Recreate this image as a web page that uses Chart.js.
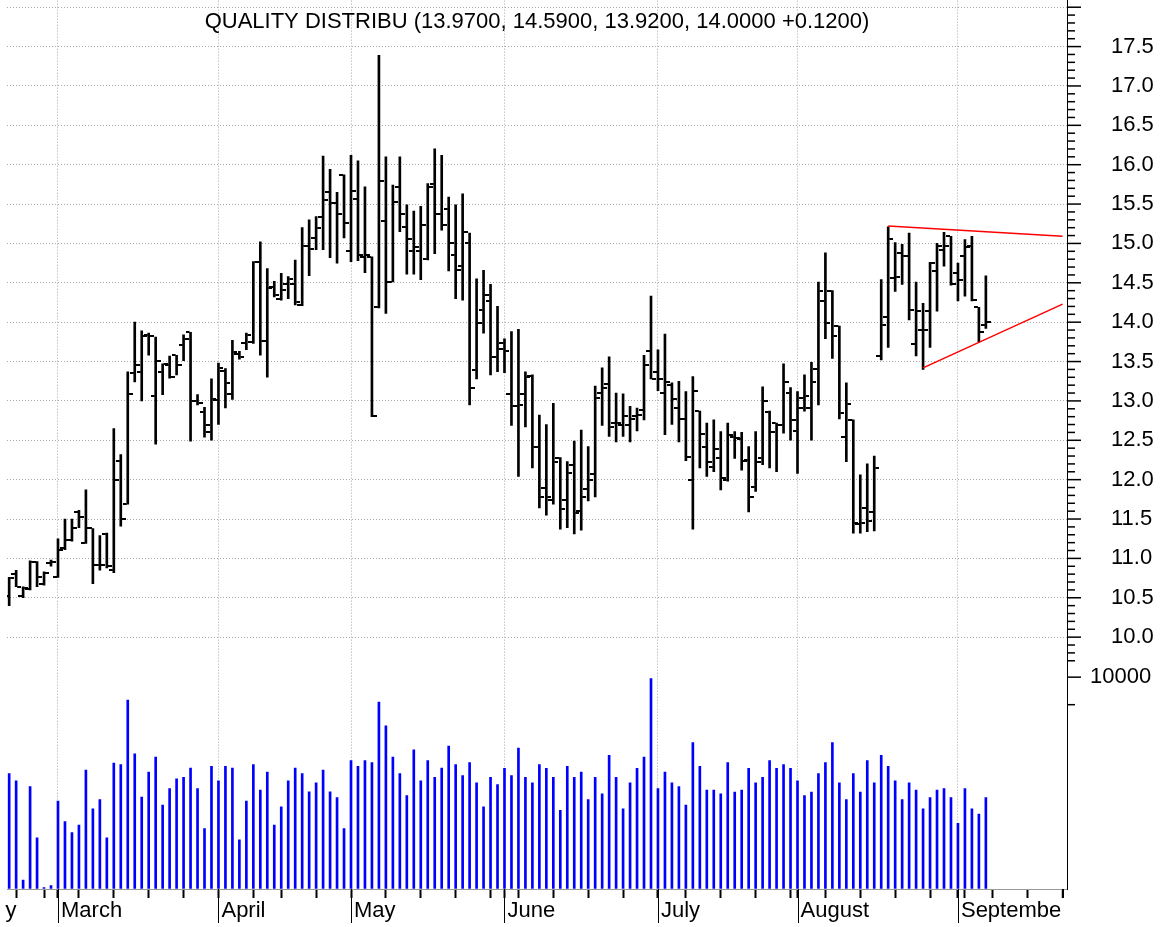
<!DOCTYPE html>
<html>
<head>
<meta charset="utf-8">
<script src="https://cdn.jsdelivr.net/npm/chart.js@4.4.1/dist/chart.umd.min.js"></script>
<style>
  html, body { margin: 0; padding: 0; background: #fff; overflow: hidden; }
  canvas { display: block; }
</style>
</head>
<body>
<canvas id="chart" width="1166" height="927"></canvas>
<script>
// daily bars, 17 Feb .. 8 Sep (trading days)
const opens = [
  10.52, 10.80, 10.52, 10.61, 10.95, 10.68, 10.94, 10.77, 11.13, 11.23,
  11.59, 11.20, 11.38, 10.92, 11.31, 10.85, 12.24, 11.69, 13.35, 13.37,
  13.84, 13.06, 13.37, 13.46, 13.58, 13.71, 13.87, 13.00, 12.86, 12.60,
  13.01, 13.38, 13.09, 13.60, 13.73, 13.75, 14.76, 13.76, 14.45, 14.29,
  14.48, 14.49, 14.22, 14.97, 15.07, 15.34, 15.65, 15.51, 15.87, 14.90,
  15.56, 14.83, 14.83, 14.19, 15.29, 14.51, 15.72, 15.21, 14.90, 14.90,
  14.80, 15.76, 15.37, 15.44, 14.85, 14.71, 15.01, 13.39, 14.16, 14.27,
  13.56, 13.74, 13.09, 12.93, 13.09, 13.32, 12.42, 11.90, 11.74, 12.28,
  11.74, 12.19, 11.60, 11.88, 12.07, 13.10, 13.21, 12.72, 12.70, 12.70,
  12.81, 12.89, 13.64, 13.37, 13.10, 13.20, 12.91, 12.77, 11.99, 12.87,
  12.41, 12.16, 12.27, 11.99, 12.54, 12.51, 12.25, 11.91, 12.27, 12.86,
  12.72, 12.70, 13.10, 12.62, 13.04, 12.91, 13.40, 14.27, 14.40, 13.95,
  12.54, 12.76, 11.44, 11.64, 11.59, 13.57, 14.06, 14.56, 14.88, 14.84,
  13.72, 13.90, 14.14, 14.65, 14.92, 15.09, 14.62, 14.84, 14.97, 14.19,
  13.97
];
const highs = [
  10.76, 10.85, 10.64, 10.97, 10.96, 10.83, 10.98, 11.25, 11.50, 11.50,
  11.61, 11.87, 11.38, 11.29, 11.32, 12.65, 12.32, 13.37, 14.00, 13.89,
  13.86, 13.81, 13.47, 13.57, 13.58, 13.84, 13.87, 13.08, 12.92, 13.28,
  13.48, 13.41, 13.77, 13.63, 13.86, 14.77, 15.02, 14.68, 14.52, 14.62,
  14.58, 14.79, 15.20, 15.30, 15.34, 16.11, 15.94, 15.65, 15.87, 16.12,
  16.05, 15.72, 14.83, 17.39, 16.10, 15.74, 16.10, 15.49, 15.41, 15.47,
  15.76, 16.20, 16.12, 15.59, 15.49, 15.63, 15.13, 14.55, 14.66, 14.48,
  14.20, 13.79, 13.88, 13.91, 13.37, 13.33, 12.82, 12.70, 12.97, 12.28,
  12.23, 12.49, 12.63, 12.42, 13.19, 13.42, 13.56, 13.10, 13.09, 12.93,
  12.91, 13.58, 14.33, 13.65, 13.85, 13.23, 13.25, 13.12, 13.31, 12.87,
  12.72, 12.76, 12.61, 12.72, 12.61, 12.60, 12.42, 12.61, 13.18, 12.87,
  12.72, 13.47, 13.17, 13.12, 13.33, 13.49, 14.51, 14.88, 14.40, 13.95,
  13.23, 12.76, 12.06, 12.20, 12.30, 14.54, 15.21, 15.01, 14.99, 15.13,
  14.51, 14.24, 14.76, 15.00, 15.14, 15.09, 14.75, 15.05, 15.09, 14.19,
  14.59
];
const lows = [
  10.40, 10.64, 10.50, 10.60, 10.64, 10.66, 10.90, 10.76, 11.11, 11.22,
  11.39, 11.19, 10.68, 10.85, 10.88, 10.82, 11.41, 11.69, 13.24, 13.00,
  13.58, 12.45, 13.08, 13.29, 13.33, 13.51, 12.49, 12.95, 12.54, 12.50,
  12.70, 12.91, 13.02, 13.53, 13.65, 13.73, 13.58, 13.30, 14.32, 14.28,
  14.30, 14.22, 14.21, 14.59, 14.92, 14.92, 14.82, 14.75, 15.07, 14.77,
  14.78, 14.63, 12.80, 14.18, 14.11, 14.51, 15.15, 14.61, 14.61, 14.54,
  14.79, 14.87, 15.17, 14.65, 14.30, 14.28, 12.95, 13.28, 13.86, 13.33,
  13.37, 13.36, 12.69, 12.04, 12.67, 12.15, 11.64, 11.55, 11.69, 11.37,
  11.39, 11.31, 11.36, 11.73, 11.78, 12.69, 12.55, 12.48, 12.55, 12.48,
  12.62, 12.76, 13.28, 13.13, 12.57, 12.70, 12.48, 12.24, 11.37, 12.15,
  12.04, 12.10, 11.87, 11.98, 12.27, 12.12, 11.59, 11.85, 12.19, 12.15,
  12.10, 12.59, 12.50, 12.08, 12.87, 12.50, 12.95, 13.79, 13.54, 12.77,
  12.23, 11.32, 11.32, 11.34, 11.35, 13.52, 13.68, 14.39, 14.48, 14.03,
  13.57, 13.40, 13.68, 14.14, 14.71, 14.47, 14.27, 14.33, 14.27, 13.75,
  13.92
];
const closes = [
  10.75, 10.64, 10.62, 10.95, 10.77, 10.82, 10.96, 11.11, 11.23, 11.39,
  11.53, 11.39, 10.92, 10.91, 10.90, 11.99, 11.50, 13.09, 13.45, 13.83,
  13.83, 13.51, 13.47, 13.30, 13.45, 13.78, 13.00, 12.97, 12.69, 13.02,
  13.42, 13.23, 13.62, 13.56, 13.84, 14.76, 13.76, 14.43, 14.35, 14.41,
  14.55, 14.26, 14.97, 14.93, 15.20, 15.55, 15.51, 15.37, 15.26, 15.67,
  14.85, 14.85, 12.81, 15.79, 14.51, 15.53, 15.37, 15.05, 14.95, 15.23,
  15.72, 15.37, 15.23, 15.01, 14.66, 15.15, 13.16, 13.99, 14.34, 13.56,
  13.66, 13.64, 12.93, 12.95, 13.30, 12.42, 11.78, 11.78, 12.23, 11.63,
  12.09, 11.58, 11.78, 12.00, 13.04, 13.16, 12.67, 12.72, 12.81, 12.77,
  12.82, 13.46, 13.28, 13.28, 13.24, 13.03, 12.77, 12.29, 13.12, 12.58,
  12.23, 12.39, 12.02, 12.57, 12.53, 12.24, 11.78, 12.23, 13.00, 12.60,
  12.70, 13.24, 12.76, 12.91, 13.06, 13.24, 14.39, 13.99, 13.82, 12.85,
  12.96, 11.45, 11.45, 11.47, 12.15, 13.97, 15.05, 14.57, 14.84, 14.16,
  14.14, 13.90, 14.75, 14.97, 14.97, 14.48, 14.54, 14.95, 14.28, 13.88,
  14.00
];
const volumes = [
  5446, 5102, 423, 4836, 2410, 63, 157, 4147, 3177, 2660,
  3020, 5618, 3787, 4226, 2410, 5947, 5869, 8921, 6385, 4335,
  5524, 6229, 3959, 4742, 5196, 5274, 5712, 4742, 2848, 5790,
  5102, 5790, 5712, 2316, 4147, 5869, 4664, 5524, 3020, 3881,
  5102, 5712, 5446, 4585, 5008, 5618, 4585, 4319, 2848, 6056,
  5790, 6056, 5962, 8827, 7700, 6229, 5446, 4413, 6573, 5102,
  6056, 5274, 5712, 6745, 5869, 5352, 5962, 5008, 3881, 5274,
  4930, 5697, 5352, 6651, 5274, 5008, 5869, 5697, 5274, 3709,
  5790, 5274, 5524, 4226, 5274, 4492, 6307, 5274, 3787, 5008,
  5697, 6229, 9938, 4742, 5524, 5008, 4836, 3959, 6917, 5790,
  4664, 4664, 4492, 5962, 4570, 4664, 5697, 5008, 5274, 6056,
  5697, 5869, 5697, 5102, 4413, 4570, 5446, 5962, 6917, 5008,
  4226, 5446, 4570, 6056, 5008, 6307, 5790, 5102, 4226, 5008,
  4664, 3787, 4319, 4664, 4742, 4319, 3099, 4742, 3787, 3537,
  4319
];

// trading-day index of each month start / week start
const monthTicks = [-12, 7, 30, 49, 71, 93, 113, 136];
const monthNames = ['February', 'March', 'April', 'May', 'June', 'July', 'August', 'September'];
const weekTicks = [1, 5, 10, 15, 20, 25, 30, 35, 39, 44, 49, 54, 59, 64, 69, 73, 78, 83, 88, 93,
  97, 102, 107, 112, 117, 122, 127, 132, 137, 141, 146, 151];
const priceTicks = [10.0, 10.5, 11.0, 11.5, 12.0, 12.5, 13.0, 13.5, 14.0, 14.5, 15.0, 15.5,
  16.0, 16.5, 17.0, 17.5, 18.0];
const volumeTicks = [10000];
const volumeMinor = [8700];

// drawn trend lines [x, price]
const upperTrend = [[126, 15.22], [151, 15.09]];
const lowerTrend = [[131, 13.42], [151, 14.23]];

const FONT = '"Liberation Sans", Arial, sans-serif';
const FS = 22;
Chart.defaults.font.family = FONT;
Chart.defaults.font.size = FS;
Chart.defaults.color = '#000';

const X_MIN = -0.31, X_MAX = 151.63;
const axisTicks = [...new Set([...monthTicks, ...weekTicks])]
  .filter(v => v >= X_MIN && v <= X_MAX).sort((a, b) => a - b);
const priceMinor = [];
for (let k = 97; k <= 180; k++) if (k % 5 !== 0) priceMinor.push(k / 10);

function tickImage(side) {
  const c = document.createElement('canvas');
  c.width = 10;
  c.height = 2;
  const g = c.getContext('2d');
  g.fillStyle = '#000';
  g.fillRect(side === 'left' ? 0 : 6, 0, 4, 2);
  return c;
}

const n = closes.length;
const last = n - 1;
const chg = closes[last] - closes[last - 1];
const titleText = 'QUALITY DISTRIBU (' + opens[last].toFixed(4) + ', ' + highs[last].toFixed(4) + ', ' +
  lows[last].toFixed(4) + ', ' + closes[last].toFixed(4) + ' ' + (chg >= 0 ? '+' : '') + chg.toFixed(4) + ')';

const overlay = {
  id: 'overlay',
  afterDraw(chart) {
    const { ctx, chartArea, scales } = chart;
    const xs = scales.x;
    ctx.save();
    ctx.strokeStyle = '#000';
    ctx.lineWidth = 1;
    monthTicks.forEach(v => {
      const px = xs.getPixelForValue(v);
      if (px < chartArea.left || px > chartArea.right) return;
      const x = Math.round(px) + 0.5;
      ctx.beginPath();
      ctx.moveTo(x, chartArea.bottom);
      ctx.lineTo(x, chartArea.bottom + 34);
      ctx.stroke();
    });
    ctx.lineWidth = 1.5;
    const tick = (scale, v, len) => {
      const y = scale.getPixelForValue(v);
      ctx.beginPath();
      ctx.moveTo(chartArea.right, y);
      ctx.lineTo(chartArea.right + len, y);
      ctx.stroke();
    };
    priceTicks.forEach(v => tick(scales.y, v, 14));
    priceMinor.forEach(v => tick(scales.y, v, 8));
    volumeTicks.forEach(v => tick(scales.yv, v, 14));
    volumeMinor.forEach(v => tick(scales.yv, v, 8));
    // the last month label runs off the plot: cut it, keep the week ticks there
    const cut = chartArea.right - 5.5;
    ctx.fillStyle = '#fff';
    ctx.fillRect(cut, chartArea.bottom + 1, chart.width, 60);
    ctx.lineWidth = 2;
    axisTicks.forEach(v => {
      const px = xs.getPixelForValue(v);
      if (px < cut - 2) return;
      const x = Math.round(px);
      ctx.beginPath();
      ctx.moveTo(x, chartArea.bottom);
      ctx.lineTo(x, chartArea.bottom + 9);
      ctx.stroke();
    });
    ctx.fillStyle = '#000';
    ctx.font = FS + 'px ' + FONT;
    // month that starts before the first bar, cut at the plot edge
    ctx.save();
    ctx.beginPath();
    ctx.rect(chartArea.left - 2, chartArea.bottom, chart.width, 60);
    ctx.clip();
    monthTicks.forEach((v, k) => {
      const px = xs.getPixelForValue(v);
      if (px >= chartArea.left) return;
      ctx.textAlign = 'left';
      ctx.textBaseline = 'middle';
      ctx.fillText(monthNames[k], px + 3, chartArea.bottom + 9 + FS * 0.6);
    });
    ctx.restore();
    ctx.textAlign = 'center';
    ctx.textBaseline = 'alphabetic';
    ctx.fillText(titleText, (chartArea.left + chartArea.right) / 2, 28);
    ctx.restore();
  }
};

new Chart(document.getElementById('chart'), {
  type: 'bar',
  data: {
    datasets: [
      {
        type: 'line',
        data: upperTrend.map(p => ({ x: p[0], y: p[1] })),
        borderColor: '#ff0000',
        borderWidth: 1.5,
        pointRadius: 0,
        yAxisID: 'y'
      },
      {
        type: 'line',
        data: lowerTrend.map(p => ({ x: p[0], y: p[1] })),
        borderColor: '#ff0000',
        borderWidth: 1.5,
        pointRadius: 0,
        yAxisID: 'y'
      },
      {
        type: 'scatter',
        data: opens.map((v, i) => ({ x: i, y: v })),
        pointStyle: tickImage('left'),
        pointRadius: 3,
        yAxisID: 'y'
      },
      {
        type: 'scatter',
        data: closes.map((v, i) => ({ x: i, y: v })),
        pointStyle: tickImage('right'),
        pointRadius: 3,
        yAxisID: 'y'
      },
      {
        type: 'bar',
        data: highs.map((h, i) => ({ x: i, y: [lows[i], h] })),
        backgroundColor: '#000',
        borderWidth: 0,
        barThickness: 2,
        grouped: false,
        yAxisID: 'y'
      },
      {
        type: 'bar',
        data: volumes.map((v, i) => ({ x: i, y: v })),
        backgroundColor: '#0000ff',
        borderWidth: 0,
        barThickness: 2,
        grouped: false,
        yAxisID: 'yv'
      }
    ]
  },
  options: {
    responsive: false,
    animation: false,
    devicePixelRatio: 1,
    events: [],
    layout: { autoPadding: false, padding: { left: 7, top: 0, right: 0, bottom: 0 } },
    plugins: { legend: { display: false }, tooltip: { enabled: false }, title: { display: false } },
    scales: {
      x: {
        type: 'linear',
        min: X_MIN,
        max: X_MAX,
        offset: false,
        afterBuildTicks: s => { s.ticks = axisTicks.map(v => ({ value: v })); },
        afterFit: s => { s.height = 38; },
        ticks: {
          autoSkip: false,
          maxRotation: 0,
          align: 'start',
          labelOffset: 3,
          padding: 0,
          callback: v => {
            const k = monthTicks.indexOf(v);
            return k >= 0 ? monthNames[k] : '';
          }
        },
        grid: {
          offset: false,
          color: c => (c.tick && monthTicks.includes(c.tick.value)) ? '#a8a8a8' : 'rgba(0,0,0,0)',
          lineWidth: 1,
          tickLength: 9,
          tickColor: '#000',
          tickWidth: 2
        },
        border: { color: '#999', width: 1, dash: [1, 2] }
      },
      y: {
        type: 'linear',
        position: 'right',
        stack: 'panels',
        stackWeight: 661,
        min: 9.695,
        max: 18.084,
        afterBuildTicks: s => { s.ticks = priceTicks.map(v => ({ value: v })); },
        afterFit: s => { s.width = 99; },
        ticks: {
          autoSkip: false,
          crossAlign: 'near',
          padding: 0,
          font: c => ({ size: (c.tick && c.tick.value > 17.9) ? 1 : FS }),
          callback: v => v < 17.9 ? v.toFixed(1) : ''
        },
        grid: { color: '#a8a8a8', lineWidth: 1, tickColor: 'rgba(0,0,0,0)', tickLength: 44 },
        border: { color: '#000', width: 1, dash: [1, 2] }
      },
      yv: {
        type: 'linear',
        position: 'right',
        stack: 'panels',
        stackWeight: 228,
        min: 0,
        max: 10755,
        afterBuildTicks: s => { s.ticks = [s.min, ...volumeTicks, s.max].map(v => ({ value: v })); },
        afterFit: s => { s.width = 99; },
        ticks: {
          autoSkip: false,
          crossAlign: 'near',
          padding: 0,
          font: c => ({ size: (c.tick && volumeTicks.includes(c.tick.value)) ? FS : 1 }),
          callback: v => volumeTicks.includes(v) ? String(v) : ''
        },
        grid: { drawOnChartArea: false, tickColor: 'rgba(0,0,0,0)', tickLength: 23 },
        border: { color: '#000', width: 1 }
      }
    }
  },
  plugins: [overlay]
});
</script>
</body>
</html>
